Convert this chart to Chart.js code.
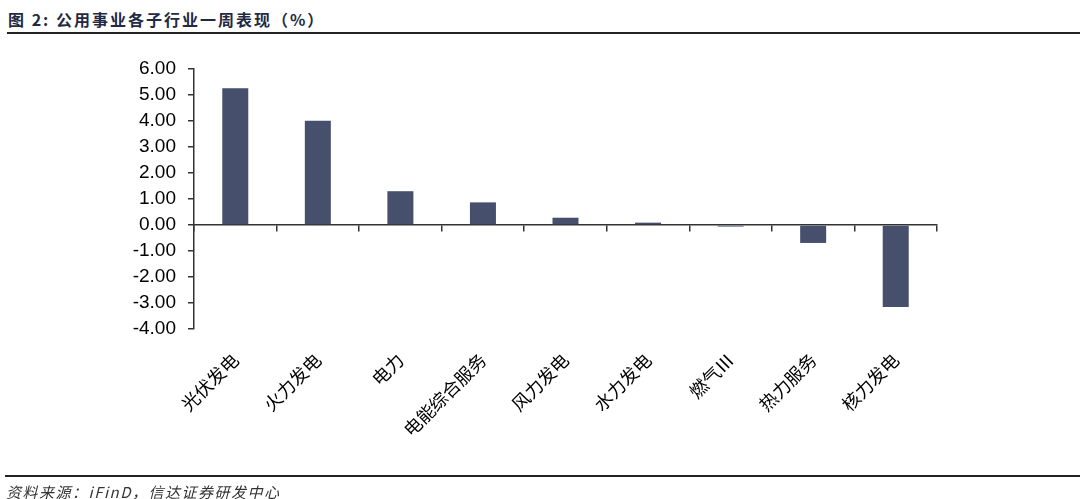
<!DOCTYPE html>
<html>
<head>
<meta charset="utf-8">
<script src="https://cdn.jsdelivr.net/npm/chart.js@4.4.1/dist/chart.umd.min.js"></script>
<style>
  html, body { margin: 0; padding: 0; background: #fff; }
  body { width: 1080px; height: 499px; position: relative; overflow: hidden; }
  #title {
    position: absolute; left: 8px; top: 7px;
    font: bold 16px "Noto Sans CJK SC", sans-serif; letter-spacing: 2px;
    color: #1f2a44;
  }
  #topLine { position: absolute; left: 7px; right: 0; top: 32px; height: 2px; background: #222; }
  #bottomLine { position: absolute; left: 5px; right: 0; top: 475px; height: 2px; background: #222; }
  #source {
    position: absolute; left: 6px; top: 481px;
    font: italic 15px "Noto Sans CJK SC", serif; letter-spacing: 1.5px; color: #333;
  }
  #wrap { position: absolute; left: 0; top: 0; width: 1080px; height: 499px; }
</style>
</head>
<body>
<div id="title">图 2:&nbsp;公用事业各子行业一周表现（%）</div>
<div id="topLine"></div>
<div id="wrap"><canvas id="barChart"></canvas></div>
<div id="bottomLine"></div>
<div id="source">资料来源：iFinD，信达证券研发中心</div>

<script>
// 各子行业一周涨跌幅（%）
const categories = ['光伏发电', '火力发电', '电力', '电能综合服务', '风力发电', '水力发电', '燃气Ⅲ', '热力服务', '核力发电'];
const weekChange = [5.26, 4.01, 1.30, 0.87, 0.28, 0.09, -0.06, -0.69, -3.15];
const yTicks = [-4, -3, -2, -1, 0, 1, 2, 3, 4, 5, 6];

const axisColor = '#333';

const ctx = document.getElementById('barChart').getContext('2d');
new Chart(ctx, {
  type: 'bar',
  data: {
    labels: categories,
    datasets: [{
      data: weekChange,
      backgroundColor: '#464f6c',
      barPercentage: 0.315,
      categoryPercentage: 1
    }]
  },
  options: {
    responsive: true,
    maintainAspectRatio: false,
    animation: false,
    layout: { padding: { left: 0, right: 143, top: 69, bottom: 0 } },
    plugins: {
      legend: { display: false },
      tooltip: { enabled: false }
    },
    scales: {
      // 零轴：横轴线画在 0 的位置
      x: {
        position: { y: 0 },
        offset: true,
        grid: {
          offset: true,
          drawOnChartArea: false,
          drawTicks: true,
          tickLength: 6,
          color: axisColor,
          lineWidth: 1.5
        },
        border: { display: true, color: axisColor, width: 1.5 },
        ticks: { display: false }
      },
      // 底部的分类标签
      x2: {
        axis: 'x',
        type: 'category',
        labels: categories,
        position: 'bottom',
        offset: true,
        grid: { display: false },
        border: { display: false },
        ticks: {
          autoSkip: false,
          minRotation: 45,
          maxRotation: 45,
          padding: 12,
          color: '#000',
          font: { family: '"Noto Sans CJK SC", sans-serif', size: 18 }
        },
        afterFit: function (scale) { scale.height = 170; }
      },
      y: {
        min: -4,
        max: 6,
        afterBuildTicks: function (scale) {
          scale.ticks = yTicks.map(v => ({ value: v }));
        },
        grid: {
          drawOnChartArea: false,
          drawTicks: true,
          tickLength: 6,
          color: axisColor,
          lineWidth: 1.5
        },
        border: { display: true, color: axisColor, width: 1.5 },
        ticks: {
          padding: 12,
          color: '#000',
          font: { family: '"Liberation Sans", Arial, sans-serif', size: 19 },
          callback: function (v) { return Number(v).toFixed(2); }
        },
        afterFit: function (scale) { scale.width = 194; }
      }
    }
  }
});
</script>
</body>
</html>
